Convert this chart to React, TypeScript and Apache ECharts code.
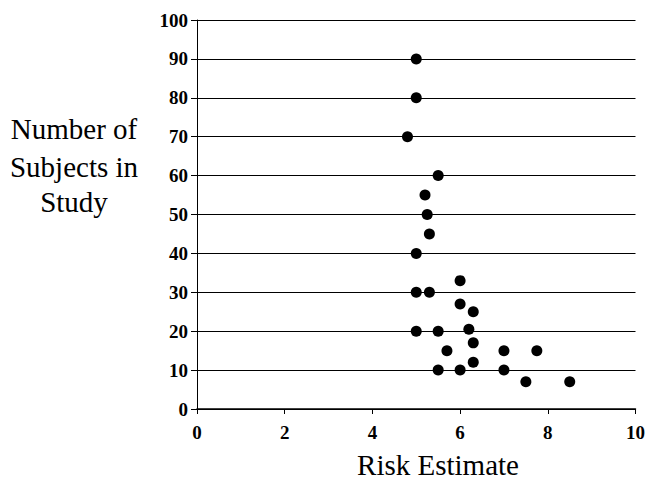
import React, { useEffect, useRef } from "react";
import * as echarts from "echarts";

const riskEstimate = [5.0, 5.0, 4.8, 5.5, 5.2, 5.25, 5.3, 5.0, 6.0, 5.0, 5.3, 6.0, 6.3, 5.0, 5.5, 6.2, 6.3, 5.7, 7.0, 7.75, 6.3, 5.5, 6.0, 7.0, 7.5, 8.5];
const subjects = [90, 80, 70, 60, 55, 50, 45, 40, 33, 30, 30, 27, 25, 20, 20, 20.5, 17, 15, 15, 15, 12, 10, 10, 10, 7, 7];
const yTitleLines = ["Number of", "Subjects in", "Study"];
const xTitle = "Risk Estimate";

export default function App() {
  const ref = useRef<HTMLDivElement>(null);
  useEffect(() => {
    if (!ref.current) return;
    const chart = echarts.init(ref.current, null, { renderer: "svg" });
    const font = "'Liberation Serif', 'Times New Roman', serif";
    const data = riskEstimate.map((x, i) => [x, subjects[i]]);
    const yTitleY = [129, 167, 202];
    chart.setOption({
      animation: false,
      backgroundColor: "#ffffff",
      grid: { left: 197, right: 10, top: 20, bottom: 72, containLabel: false },
      xAxis: {
        type: "value",
        min: 0,
        max: 10,
        interval: 2,
        axisLine: { show: true, onZero: false, lineStyle: { color: "#000", width: 1.5 } },
        axisTick: { show: true, length: 5, inside: false, lineStyle: { color: "#000", width: 1 } },
        axisLabel: { color: "#000", fontFamily: font, fontWeight: "bold", fontSize: 19, margin: 14 },
        splitLine: { show: false },
      },
      yAxis: {
        type: "value",
        min: 0,
        max: 100,
        interval: 10,
        axisLine: { show: true, lineStyle: { color: "#000", width: 1 } },
        axisTick: { show: true, length: 6, inside: false, lineStyle: { color: "#000", width: 1 } },
        axisLabel: { color: "#000", fontFamily: font, fontWeight: "bold", fontSize: 19, margin: 9, padding: [0, 0, 5, 0] },
        splitLine: { show: true, lineStyle: { color: "#000", width: 1, type: "solid" } },
      },
      graphic: [
        ...yTitleLines.map((t, i) => ({
          type: "text",
          x: 74,
          y: yTitleY[i],
          style: { text: t, fill: "#000", font: `29px ${font}`, align: "center", verticalAlign: "middle" },
        })),
        {
          type: "text",
          x: 438,
          y: 465,
          style: { text: xTitle, fill: "#000", font: `29px ${font}`, align: "center", verticalAlign: "middle" },
        },
      ],
      series: [
        {
          type: "scatter",
          data,
          symbol: "circle",
          symbolSize: 11,
          itemStyle: { color: "#000", opacity: 1 },
        },
      ],
    });
    return () => chart.dispose();
  }, []);
  return <div ref={ref} style={{ position: "fixed", left: 0, top: 0, width: 648, height: 481 }} />;
}
